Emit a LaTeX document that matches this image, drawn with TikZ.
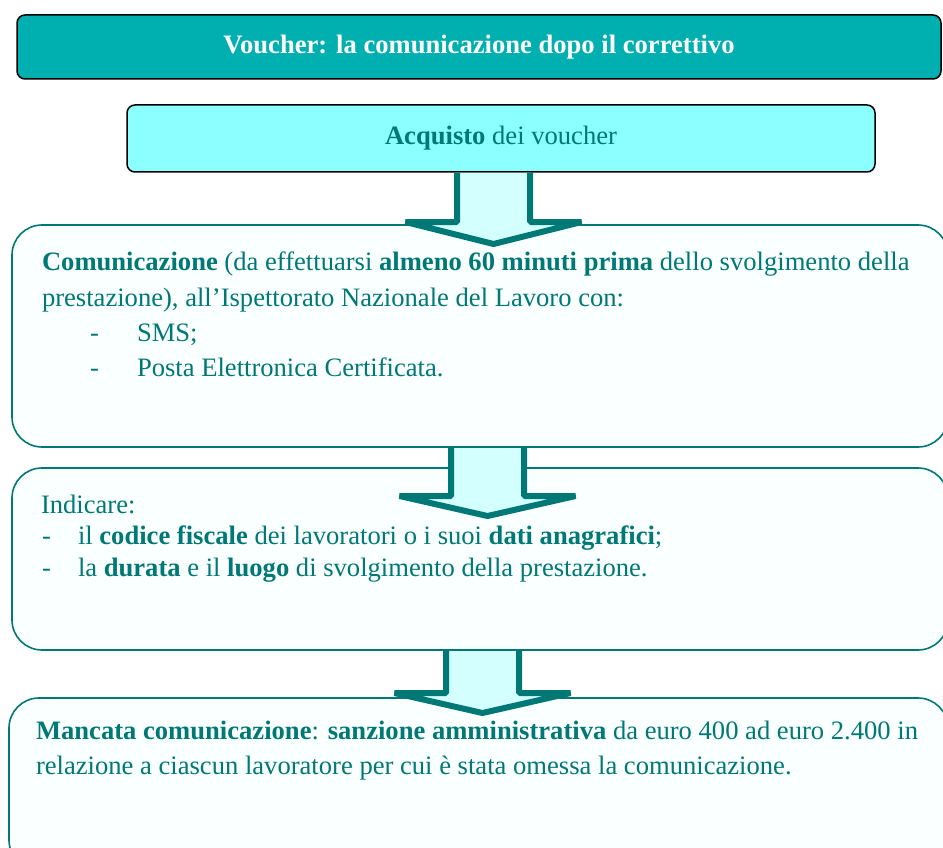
\documentclass[tikz,border=0pt]{standalone}
\usepackage{fontspec}
\setmainfont{Liberation Serif}
\definecolor{titlefill}{RGB}{0,176,176}
\definecolor{acqfill}{RGB}{140,255,255}
\definecolor{arrfill}{RGB}{212,255,255}
\definecolor{tealdark}{RGB}{0,120,118}
\definecolor{boxfill}{RGB}{250,255,255}
\newcommand{\flowarrow}[4]{%
  \fill[arrfill] (#1-36.5,#2) -- (#1-36.5,#3) -- (#1-88,#3) -- (#1,#4) -- (#1+88,#3) -- (#1+36.5,#3) -- (#1+36.5,#2) -- cycle;
  \draw[arrline] (#1-36.5,#2) -- (#1-36.5,#3) -- (#1-88,#3) -- (#1,#4) -- (#1+88,#3) -- (#1+36.5,#3) -- (#1+36.5,#2);
}
\begin{document}
\begin{tikzpicture}[x=1pt,y=-1pt,
  every node/.style={inner sep=0pt, outer sep=0pt},
  txt/.style={font=\fontsize{26.6}{35}\selectfont, text=tealdark, anchor=base west},
  headbox/.style={draw=black, line width=1.5pt, rounded corners=8pt},
  softbox/.style={draw=tealdark, line width=1.6pt, fill=boxfill, rounded corners=30pt},
  arrline/.style={draw=tealdark, line width=6pt, line join=bevel}]
\useasboundingbox[fill=white] (0,0) rectangle (943,848);

% header boxes
\node[headbox, fill=titlefill, minimum width=924pt, minimum height=64pt,
      font=\fontsize{26.6}{35}\selectfont\bfseries, text=white] (title) at (479,47)
      {Voucher: la comunicazione dopo il correttivo};
\node[headbox, fill=acqfill, minimum width=748pt, minimum height=67pt,
      font=\fontsize{26.6}{35}\selectfont, text=tealdark] (acq) at (501,138.5)
      {\textbf{Acquisto} dei voucher};

% content boxes
\node[softbox, minimum width=936pt, minimum height=222pt] (comm) at (480,336) {};
\node[softbox, minimum width=936pt, minimum height=182pt] (ind) at (480,559) {};
\node[softbox, minimum width=939pt, minimum height=172pt] (sanz) at (478.5,784) {};

% block arrows
\flowarrow{493.5}{173}{222}{244}
\flowarrow{487.5}{448}{496}{516}
\flowarrow{482.5}{651}{693}{713}

% texts box 2
\node[txt] (c1) at (42,270) {\textbf{Comunicazione} (da effettuarsi \textbf{almeno 60 minuti prima} dello svolgimento della};
\node[txt] (c2) at (42,306) {prestazione), all’Ispettorato Nazionale del Lavoro con:};
\node[txt] (c3d) at (90,341) {-};
\node[txt] (c3) at (137,341) {SMS;};
\node[txt] (c4d) at (90,376) {-};
\node[txt] (c4) at (137,376) {Posta Elettronica Certificata.};

% texts box 3
\node[txt] (i1) at (41,513) {Indicare:};
\node[txt] (i2d) at (42,544) {-};
\node[txt] (i2) at (78,544) {il \textbf{codice fiscale} dei lavoratori o i suoi \textbf{dati anagrafici};};
\node[txt] (i3d) at (42,576) {-};
\node[txt] (i3) at (78,576) {la \textbf{durata} e il \textbf{luogo} di svolgimento della prestazione.};

% texts box 4
\node[txt] (s1) at (36,739) {\textbf{Mancata comunicazione}: \textbf{sanzione amministrativa} da euro 400 ad euro 2.400 in};
\node[txt] (s2) at (36,774) {relazione a ciascun lavoratore per cui è stata omessa la comunicazione.};
\end{tikzpicture}
\end{document}
